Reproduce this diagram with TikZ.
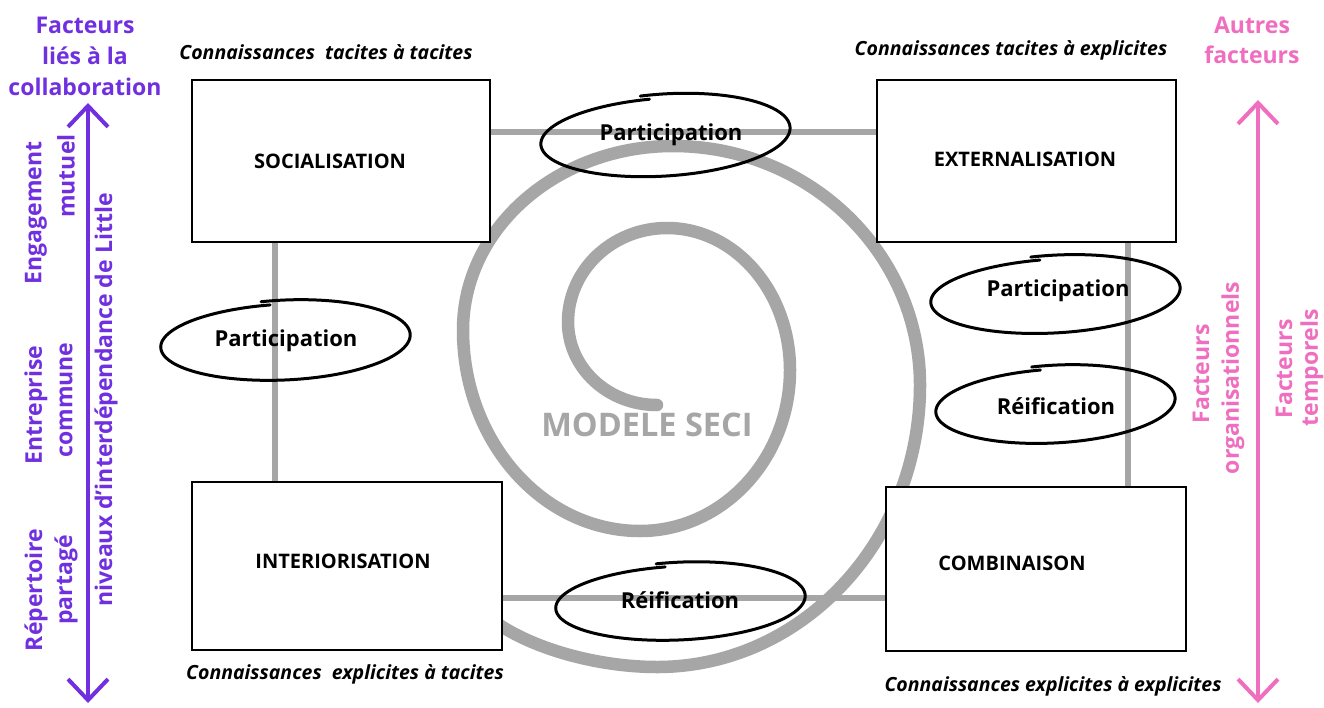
\documentclass[tikz,border=0pt]{standalone}
\usepackage{fontspec}
\setmainfont{Open Sans}
\usetikzlibrary{arrows.meta}
\definecolor{violetc}{RGB}{112,48,224}
\definecolor{pinkc}{RGB}{240,110,192}
\definecolor{grayc}{RGB}{166,166,166}
% #1 node, #2 dx, #3 dy, #4 rx, #5 ry, #6 tilt
\newcommand{\sketchell}[6]{%
\begin{scope}[shift={(#1.center)}, shift={(#2,#3)}]
\draw[ellline] plot[domain=96:460, samples=150, smooth, variable=\t]
 ({ (#4)*(1+0.015*(\t-96)/364)*cos(\t)*cos(#6) - (#5)*(1+0.11*(\t-96)/364)*sin(\t)*sin(#6) },
  { -(#4)*(1+0.015*(\t-96)/364)*cos(\t)*sin(#6) - (#5)*(1+0.11*(\t-96)/364)*sin(\t)*cos(#6) });
\end{scope}}
\begin{document}
\begin{tikzpicture}[x=1pt,y=-1pt,
  box/.style={draw=black, line width=1.8pt, fill=white, inner sep=0pt},
  boxtext/.style={font=\fontsize{20}{24}\selectfont\bfseries},
  conn/.style={draw=grayc, line width=6pt},
  spiral/.style={draw=grayc, line width=12.5pt, line cap=round},
  ellline/.style={draw=black, line width=3pt, line cap=round},
  elltext/.style={font=\fontsize{22}{26}\selectfont\bfseries, inner sep=0pt},
  know/.style={font=\fontsize{19.5}{23}\selectfont\bfseries\itshape},
  vtext/.style={font=\fontsize{23}{31}\selectfont\bfseries, text=violetc, inner sep=0pt},
  ptext/.style={font=\fontsize{23}{30}\selectfont\bfseries, text=pinkc, inner sep=0pt},
  barrow/.style={line width=4pt, arrows={Straight Barb[length=21pt,width=40pt]-Straight Barb[length=21pt,width=40pt]}}
]
\fill[white] (0,0) rectangle (1324,707);
\useasboundingbox (0,0) rectangle (1324,707);

% spiral (quarter arcs between extreme points)
\draw[spiral] (657,405)
 .. controls (607.8,405) and (568,367.8) .. (568,322)
 .. controls (568,270.1) and (612.3,228) .. (667,228)
 .. controls (734.9,228) and (790,291.6) .. (790,370)
 .. controls (790,458.9) and (722.8,531) .. (640,531)
 .. controls (542.2,531) and (463,441) .. (463,330)
 .. controls (463,228.4) and (557,146) .. (673,146)
 .. controls (809.4,146) and (920,253) .. (920,385)
 .. controls (920,540.7) and (802.3,667) .. (657,667)
 .. controls (600,667) and (535,650) .. (495,622);

% boxes
\node[box, minimum width=298pt, minimum height=162pt] (soc) at (341,161) {};
\node[box, minimum width=299pt, minimum height=162pt] (ext) at (1026.5,161) {};
\node[box, minimum width=310pt, minimum height=168pt] (int) at (347,566) {};
\node[box, minimum width=300pt, minimum height=164pt] (comb) at (1036,569) {};

% grey connectors
\draw[conn] ([yshift=29pt]soc.east) -- ([yshift=29pt]ext.west);
\draw[conn] ([yshift=-32pt]int.east) -- ([yshift=-29pt]comb.west);
\draw[conn] ([xshift=-66pt]soc.south) -- ([xshift=-72pt]int.north);
\draw[conn] ([xshift=101.5pt]ext.south) -- ([xshift=92pt]comb.north);

% box texts
\node[boxtext] (soct) at (330,161) {SOCIALISATION};
\node[boxtext] (extt) at (1025,159) {EXTERNALISATION};
\node[boxtext] (intt) at (343,561) {INTERIORISATION};
\node[boxtext] (combt) at (1012,563) {COMBINAISON};

% ellipse labels
\node[elltext] (p1) at (671,135) {Participation};
\node[elltext] (p2) at (286,341) {Participation};
\node[elltext] (p3) at (1058,291) {Participation};
\node[elltext] (r1) at (1056,406) {Réification};
\node[elltext] (r2) at (680,600) {Réification};
\sketchell{p1}{-6}{1}{124}{38}{4}
\sketchell{p2}{-1}{0}{124}{37}{3}
\sketchell{p3}{-3}{4}{124}{36}{3.5}
\sketchell{r1}{-1}{-1}{119}{36}{3.5}
\sketchell{r2}{0}{2}{124}{36}{3}

\node[font=\fontsize{32.5}{38}\selectfont\bfseries, text=grayc] (seci) at (647,425) {MODELE SECI};

% knowledge labels
\node[know] (k1) at (326,52) {Connaissances\ \ tacites à tacites};
\node[know] (k2) at (1011,50) {Connaissances tacites à explicites};
\node[know] (k3) at (345,674) {Connaissances\ \ explicites à tacites};
\node[know] (k4) at (1053,686) {Connaissances explicites à explicites};

% left axis
\node[vtext, align=center] (vtitle) at (85,56) {Facteurs\\liés à la\\collaboration};
\coordinate (la1) at (88,103);
\coordinate (la2) at (88,703);
\draw[barrow, draw=violetc] (la1) -- (la2);
\node[vtext, rotate=90] (eng1) at (36,213) {Engagement};
\node[vtext, rotate=90] (eng2) at (66,176) {mutuel};
\node[vtext, rotate=90] (ent1) at (36,405) {Entreprise};
\node[vtext, rotate=90] (ent2) at (66,400) {commune};
\node[vtext, rotate=90] (rep1) at (36,590) {Répertoire};
\node[vtext, rotate=90] (rep2) at (66,580) {partagé};
\node[vtext, rotate=90] (little) at (106,400) {niveaux d’interdépendance de Little};

% right axis
\node[ptext, align=center] (ptitle) at (1252,40) {Autres\\facteurs};
\coordinate (ra1) at (1258,100);
\coordinate (ra2) at (1258,703);
\draw[barrow, draw=pinkc] (ra1) -- (ra2);
\node[ptext, rotate=90] (fo1) at (1201,374) {Facteurs};
\node[ptext, rotate=90] (fo2) at (1233,378) {organisationnels};
\node[ptext, rotate=90] (ft1) at (1284,369) {Facteurs};
\node[ptext, rotate=90] (ft2) at (1312,368) {temporels};
\end{tikzpicture}
\end{document}
